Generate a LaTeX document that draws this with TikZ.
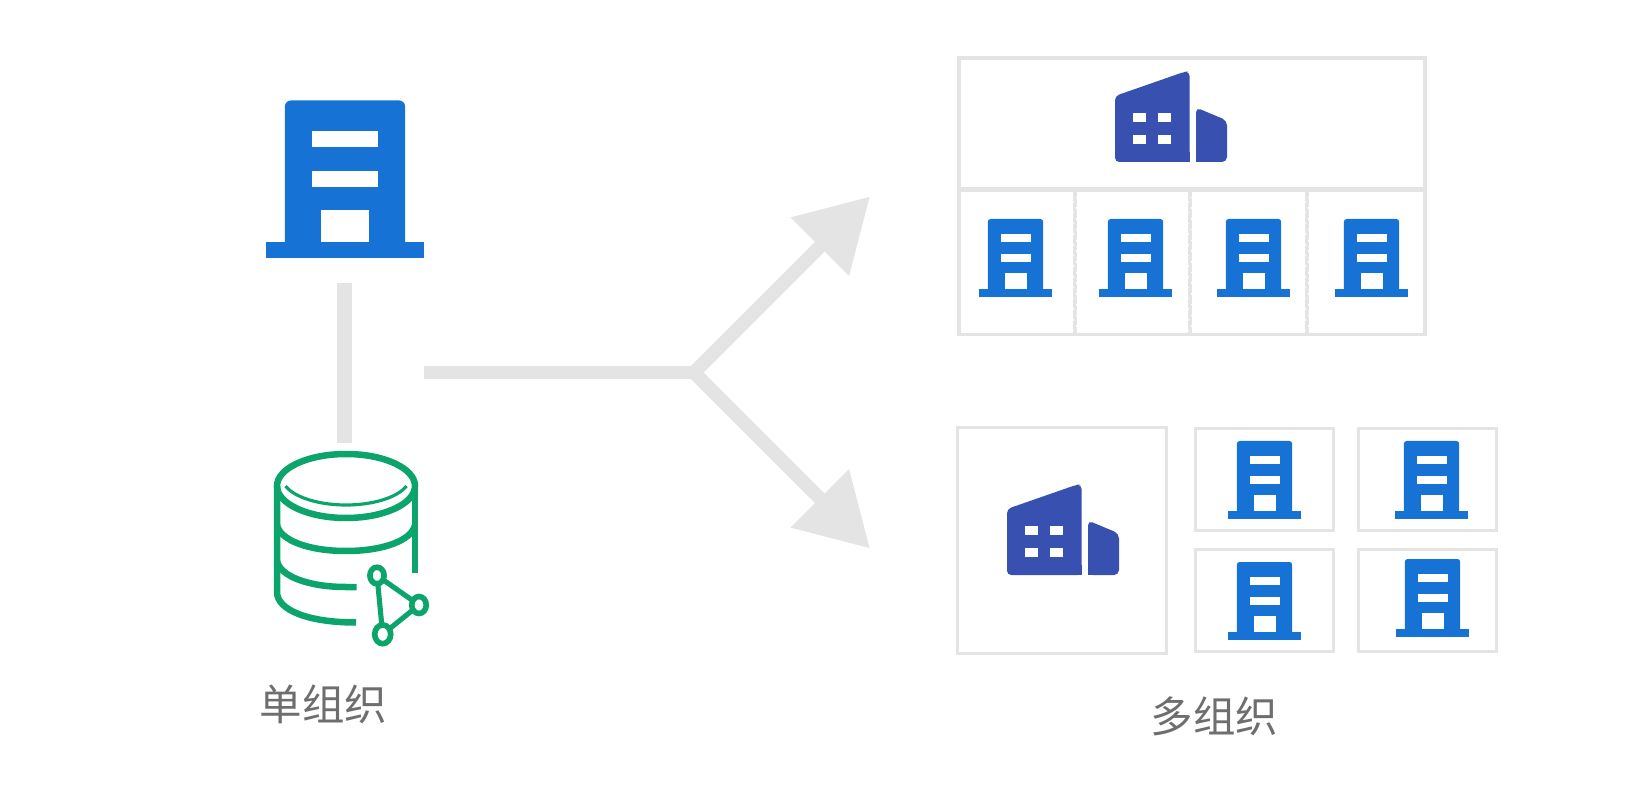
\documentclass[tikz,border=0pt]{standalone}
\usepackage{fontspec}
\newfontfamily\cjk{Noto Sans CJK SC}
\usetikzlibrary{arrows.meta}
\usetikzlibrary{shapes.geometric}
\definecolor{bar_gray}{HTML}{E4E4E4}
\definecolor{tower_blue}{HTML}{1772D6}
\definecolor{plant_blue}{HTML}{3851B0}
\definecolor{db_green}{HTML}{0BA56C}
\definecolor{label_gray}{HTML}{6E6E6E}

\begin{document}
\begin{tikzpicture}[
    x=0.02cm, y=-0.02cm,
    frame/.style={draw=bar_gray, line width=2.1pt},
    bar/.style={draw=bar_gray, line width=0.27cm},
    split/.style={bar, -{Triangle[length=1.42cm, width=1.58cm]}},
    cell_line/.style={draw=bar_gray, line width=2.1pt, dash pattern=on 5.2pt off 0.9pt},
    db/.style={draw=db_green, line width=3.7pt},
    net_dot/.style={ellipse, draw=db_green, line width=3.2pt, inner sep=0pt, outer sep=0pt, minimum width=0.284cm, minimum height=0.33cm},
    org_label/.style={text=label_gray, font=\cjk\fontsize{24.2pt}{29pt}\selectfont, inner sep=0pt},
    pics/building/.style={code={
        \fill[tower_blue] (-36.5,0) rectangle (36.5,-8);
        \fill[tower_blue, rounded corners=#1] (-27.7,-4) -- (-27.7,-78) -- (27.7,-78) -- (27.7,-4) -- cycle;
        \fill[white] (-15,-55) rectangle (15,-63);
        \fill[white] (-15,-35) rectangle (15,-43);
        \fill[white] (-11,-8) rectangle (11,-24);
    }},
    pics/plant/.style={code={
        \fill[plant_blue, rounded corners=2.4pt] (0,0) -- (0,-66) -- (70,-90.4) -- (74.5,-90.4) -- (74.5,0) -- cycle;
        \fill[plant_blue] (60,0) rectangle (74.5,-10);
        \fill[plant_blue, rounded corners=2.8pt] (81,0) -- (81,-54.5) -- (112,-41.5) -- (112,0) -- cycle;
        \fill[plant_blue] (81,0) rectangle (95,-10);
        \fill[white] (18.3,-49) rectangle (31,-40);
        \fill[white] (43.3,-49) rectangle (56,-40);
        \fill[white] (18.3,-27) rectangle (31,-18);
        \fill[white] (43.3,-27) rectangle (56,-18);
    }}
]

\useasboundingbox (0,0) rectangle (1640,800);

\coordinate (stem_top) at (344.5,283);
\coordinate (stem_bottom) at (344.5,443);
\coordinate (trunk_start) at (424,372.5);
\coordinate (fork) at (694,372.5);
\coordinate (upper_tip) at (870,196.5);
\coordinate (lower_tip) at (870,548.5);

\draw[bar, line width=0.3cm] (stem_top) -- (stem_bottom);
\draw[bar] (trunk_start) -- (fork);
\draw[split] (fork) -- (upper_tip);
\draw[split] (fork) -- (lower_tip);

\path (345,258) pic[xscale=2.17, yscale=2.02] {building=3.4pt};

% database
\draw[db] (346,486) ellipse [x radius=69, y radius=32];
\draw[db, line width=1.8pt] (285.5,486) .. controls (295,498) and (320,505) .. (346,505)
                                        .. controls (372,505) and (397,498) .. (406.5,486);
\draw[db] (277,486) -- (277,592) .. controls (277,610) and (308,622.5) .. (356,622.5);
\draw[db] (415,486) -- (415,573);
\draw[db] (277,525) .. controls (280,540) and (308,551) .. (346,551)
                    .. controls (384,551) and (412,540) .. (415,525);
\draw[db] (277,561) .. controls (280,576) and (308,587) .. (346,587) -- (356.7,587);

\node[net_dot] (net_top) at (377,575.5) {};
\node[net_dot, minimum width=0.29cm, minimum height=0.34cm] (net_right) at (419,605) {};
\node[net_dot, minimum width=0.32cm, minimum height=0.376cm] (net_bottom) at (382.7,634.3) {};
\draw[db, line width=2.9pt] (net_top) -- (net_right);
\draw[db, line width=2.9pt] (net_right) -- (net_bottom);
\draw[db, line width=2.9pt] (net_bottom) -- (net_top);

\node[org_label] (single_label) at (323.5,704) {单组织};

% upper group
\draw[frame] (958.7,57.7) rectangle (1425.3,334.6);
\draw[frame, line width=2.8pt] (958.7,189.5) -- (1425.3,189.5);
\foreach \cx in {1075,1190,1307} {
    \draw[cell_line] (\cx-0.6,192) -- (\cx-0.6,333);
    \draw[cell_line, dash phase=2.5pt] (\cx+0.6,192) -- (\cx+0.6,333);
}
\path (1115,162) pic {plant};
\foreach \cx in {1015.5,1135.5,1253.5,1371.5}
    \path (\cx,297) pic {building=1.6pt};

% lower group
\draw[frame] (957.5,427.5) rectangle (1166.5,653.5);
\path (1007,575) pic {plant};
\draw[frame] (1195.5,428.5) rectangle (1333.5,530.5);
\draw[frame] (1358.5,428.5) rectangle (1496.5,530.5);
\draw[frame] (1195.5,549.5) rectangle (1333.5,651.5);
\draw[frame] (1358.5,549.5) rectangle (1496.5,651.5);
\path (1264.5,519) pic {building=1.6pt};
\path (1431.5,519) pic {building=1.6pt};
\path (1264.5,640) pic {building=1.6pt};
\path (1432.5,637) pic {building=1.6pt};

\node[org_label] (multi_label) at (1214.5,716) {多组织};

\end{tikzpicture}
\end{document}
